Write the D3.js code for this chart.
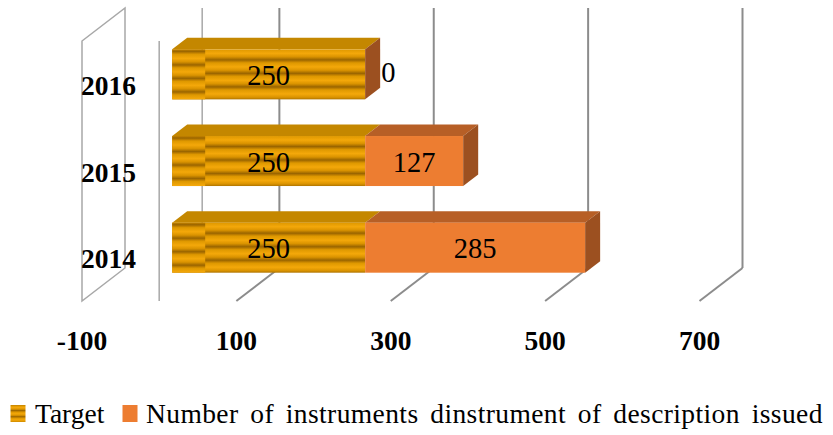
<!DOCTYPE html>
<html>
<head>
<meta charset="utf-8">
<script src="https://cdn.jsdelivr.net/npm/d3@7"></script>
<style>
  html, body { margin: 0; padding: 0; background: #ffffff; }
  svg { display: block; }
</style>
</head>
<body>
<svg id="chart" width="833" height="435"></svg>
<script>
// ---- data ----
const categories = ["2014", "2015", "2016"];
const targetValues = [250, 250, 250];
const issuedValues = [285, 127, 0];
const tickValues = [-100, 100, 300, 500, 700];
const seriesNames = ["Target", "Number of instruments dinstrument of description issued"];

// ---- layout ----
const FONT = "'Liberation Serif', 'Times New Roman', Tinos, serif";
const frontTop = 41, frontBottom = 301;
const depth = { dx: 43, dy: -33 };          // front plane -> back plane
const barFront = 13 / 43;                    // bar front face position in depth (fraction)
const barDepth = 15 / 43;                    // bar depth (fraction)

const svg = d3.select("#chart");
const defs = svg.append("defs");

const x = d3.scaleLinear().domain([-100, 700]).range([82, 699.5]);
const bfx = barFront * depth.dx, bfy = barFront * depth.dy;
const bdx = barDepth * depth.dx, bdy = barDepth * depth.dy;
const y = d3.scaleBand().domain(categories)
  .range([frontBottom + bfy, frontTop + bfy]).padding(0);
const barH = y.bandwidth() * 0.577;

// stripe gradients for the Target series
function stripeGrad(id, period, offset) {
  const g = defs.append("linearGradient").attr("id", id)
    .attr("x1", 0).attr("y1", offset).attr("x2", 0).attr("y2", offset + period)
    .attr("spreadMethod", "repeat");
  [[0, "#de9800"], [0.3, "#f4a80a"], [0.55, "#da9300"], [0.78, "#9a6500"], [0.9, "#c08000"], [1, "#de9800"]]
    .forEach(([o, c]) => g.append("stop").attr("offset", o).attr("stop-color", c));
}
stripeGrad("stripeMain", 0.27, 0.0);
stripeGrad("stripeLeft", 0.27, 0.1);
stripeGrad("stripeLegend", 0.36, 0.05);

const gridColor = "#8c8c8c", wallColor = "#a8a8a8";

// ---- walls & gridlines ----
const grid = svg.append("g");
grid.append("path")
  .attr("d", d3.line()([
    [x(-100), frontTop], [x(-100) + depth.dx, frontTop + depth.dy],
    [x(-100) + depth.dx, frontBottom + depth.dy], [x(-100), frontBottom]
  ]) + "Z")
  .attr("fill", "none").attr("stroke", wallColor).attr("stroke-width", 1.5);
grid.append("line")
  .attr("x1", x(0)).attr("x2", x(0)).attr("y1", frontTop).attr("y2", frontBottom)
  .attr("stroke", wallColor).attr("stroke-width", 1.5);
grid.append("line")
  .attr("x1", x(0) + depth.dx).attr("x2", x(0) + depth.dx)
  .attr("y1", frontTop + depth.dy).attr("y2", frontBottom + depth.dy)
  .attr("stroke", wallColor).attr("stroke-width", 1.5);
const gt = tickValues.filter(v => v > -100);
grid.selectAll(".back").data(gt).join("line")
  .attr("x1", d => x(d) + depth.dx).attr("x2", d => x(d) + depth.dx)
  .attr("y1", frontTop + depth.dy).attr("y2", frontBottom + depth.dy)
  .attr("stroke", gridColor).attr("stroke-width", 2);
grid.selectAll(".floor").data(gt).join("line")
  .attr("x1", d => x(d)).attr("y1", frontBottom)
  .attr("x2", d => x(d) + depth.dx).attr("y2", frontBottom + depth.dy)
  .attr("stroke", gridColor).attr("stroke-width", 2);

// ---- bars ----
const xb = v => x(v) + bfx;
const rows = categories.map((c, i) => ({
  cat: c,
  segs: [
    { s: 0, v0: 0, v1: targetValues[i], val: targetValues[i] },
    { s: 1, v0: targetValues[i], v1: targetValues[i] + issuedValues[i], val: issuedValues[i] }
  ]
}));
const colors = {
  front: ["url(#stripeMain)", "#ed7d31"],
  top: ["#c48700", "#b75f26"],
  side: ["#a0571c", "#9c5020"]
};
const barsG = svg.append("g");
rows.slice().reverse().forEach(r => {
  const yTop = y(r.cat) + (y.bandwidth() - barH) / 2;
  const yBot = yTop + barH;
  const g = barsG.append("g");
  r.segs.forEach(sg => {
    const a = xb(sg.v0), b = xb(sg.v1);
    g.append("path")
      .attr("d", d3.line()([[a, yTop], [b, yTop], [b + bdx, yTop + bdy], [a + bdx, yTop + bdy]]) + "Z")
      .attr("fill", colors.top[sg.s]);
    if (b > a) {
      g.append("rect").attr("x", a).attr("y", yTop).attr("width", b - a).attr("height", barH)
        .attr("fill", colors.front[sg.s]);
      if (sg.s === 0) {
        g.append("rect").attr("x", a).attr("y", yTop).attr("width", 33).attr("height", barH)
          .attr("fill", "url(#stripeLeft)");
      }
    }
  });
  const last = r.segs[r.segs.length - 1];
  const e = xb(last.v1);
  g.append("path")
    .attr("d", d3.line()([[e, yTop], [e + bdx, yTop + bdy], [e + bdx, yBot + bdy], [e, yBot]]) + "Z")
    .attr("fill", colors.side[1]);
  r.segs.forEach(sg => {
    const a = xb(sg.v0), b = xb(sg.v1);
    const cy = yTop + barH / 2;
    const t = g.append("text").style("font-family", FONT).attr("font-size", 28.5).text(sg.val);
    if (sg.val === 0) {
      t.attr("x", b + bdx + 1).attr("y", cy + 8).attr("text-anchor", "start");
    } else {
      t.attr("x", (a + b) / 2).attr("y", cy + 10.5).attr("text-anchor", "middle");
    }
  });
});

// ---- category labels ----
svg.append("g").selectAll("text").data(categories).join("text")
  .style("font-family", FONT)
  .attr("x", 108.5)
  .attr("y", d => y(d) + y.bandwidth() / 2 - bfy + 10.5)
  .attr("text-anchor", "middle").attr("font-weight", "bold").attr("font-size", 27.5)
  .text(d => d);

// ---- value axis tick labels ----
svg.append("g").selectAll("text").data(tickValues).join("text")
  .style("font-family", FONT)
  .attr("x", d => x(d)).attr("y", 350)
  .attr("text-anchor", "middle").attr("font-weight", "bold").attr("font-size", 27.5)
  .text(d => d);

// ---- legend ----
const lg = svg.append("g");
lg.append("rect").attr("x", 10.5).attr("y", 405).attr("width", 15).attr("height", 17)
  .attr("fill", "url(#stripeLegend)");
lg.append("text").style("font-family", FONT).attr("x", 35).attr("y", 423).attr("font-size", 27.5)
  .text(seriesNames[0]);
lg.append("rect").attr("x", 122.5).attr("y", 405).attr("width", 15).attr("height", 17)
  .attr("fill", "#ed7d31");
lg.append("text").style("font-family", FONT)
  .style("word-spacing", "4.5px").style("letter-spacing", "0.4px")
  .attr("x", 146).attr("y", 423).attr("font-size", 27.5)
  .text(seriesNames[1]);
</script>
</body>
</html>
